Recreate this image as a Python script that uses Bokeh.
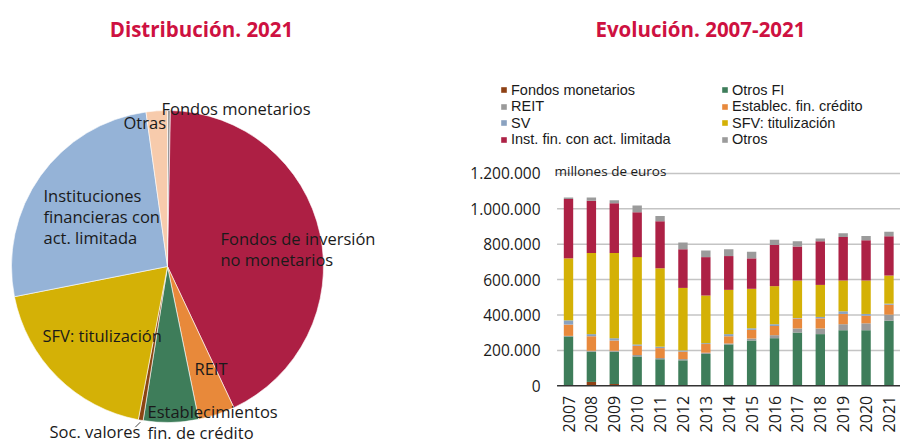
from math import pi
import numpy as np
from bokeh.plotting import figure
from bokeh.layouts import row
from bokeh.models import (Range1d, Label, Legend, LegendItem, FixedTicker, ColumnDataSource)
from bokeh.core.properties import value
from bokeh.embed import file_html
from bokeh.resources import INLINE

FONT = "Open Sans"
LEGEND_FONT = "Liberation Sans"
TITLE_COLOR = "#CE1141"
TEXT_COLOR = "#1a1a1a"

# ---------------- data: pie (Distribución 2021, % del total) ----------------
pie_labels = ["Fondos monetarios", "Fondos de inversión\nno monetarios", "REIT",
              "Establecimientos\nfin. de crédito", "Soc. valores", "SFV: titulización",
              "Instituciones\nfinancieras con\nact. limitada", "Otras"]
pie_shares = [0.3, 42.7, 3.8, 5.7, 0.5, 18.9, 25.9, 2.2]
pie_colors = ["#9A9A9A", "#AD1F44", "#E8893A", "#3E7D5A", "#8B4513", "#D4B106",
              "#95B3D7", "#F7CBAC"]

# ---------------- data: stacked bars (millones de euros) ----------------
years = ["2007", "2008", "2009", "2010", "2011", "2012", "2013", "2014",
         "2015", "2016", "2017", "2018", "2019", "2020", "2021"]
fondos_monetarios = [2000, 22000, 10000, 3000, 3000, 2000, 2000, 2000, 2000, 2000, 2000, 2000, 2000, 2000, 2000]
otros_fi = [277000, 171000, 183000, 163000, 147000, 142000, 178000, 232000, 254000, 267000, 299000, 290000, 312000, 312000, 366000]
reit = [3000, 5000, 5000, 8000, 7000, 7000, 7000, 5000, 11000, 17000, 23000, 32000, 34000, 39000, 34000]
establec = [64000, 82000, 58000, 52000, 56000, 42000, 49000, 41000, 49000, 52000, 56000, 57000, 58000, 43000, 56000]
sv = [24000, 12000, 13000, 8000, 8000, 7000, 5000, 12000, 9000, 10000, 3000, 8000, 15000, 10000, 6000]
sfv = [350000, 458000, 481000, 493000, 443000, 353000, 269000, 250000, 223000, 215000, 212000, 181000, 174000, 189000, 159000]
inst_fin = [335000, 295000, 282000, 253000, 265000, 219000, 217000, 191000, 172000, 232000, 192000, 247000, 245000, 228000, 222000]
otros = [9000, 19000, 17000, 39000, 30000, 38000, 38000, 39000, 37000, 30000, 30000, 15000, 22000, 24000, 25000]

series_keys = ["fondos_monetarios", "otros_fi", "reit", "establec", "sv", "sfv", "inst_fin", "otros"]
series_names = ["Fondos monetarios", "Otros FI", "REIT", "Establec. fin. crédito", "SV",
                "SFV: titulización", "Inst. fin. con act. limitada", "Otros"]
series_colors = ["#8E4115", "#3E7D5A", "#9A9A9A", "#E8893C", "#8AA2C0", "#D4B106",
                 "#AD2145", "#9B9B9B"]
legend_left = ["Fondos monetarios", "REIT", "SV", "Inst. fin. con act. limitada"]
legend_right = ["Otros FI", "Establec. fin. crédito", "SFV: titulización", "Otros"]

ytick_values = [0, 200000, 400000, 600000, 800000, 1000000, 1200000]
ytick_labels = ["0", "200.000", "400.000", "600.000", "800.000", "1.000.000", "1.200.000"]

# ---------------- layout constants ----------------
H = 443
PW = 385
CX, CY = 167, 266      # pie centre in figure pixels (from top-left)
R = 156

# ---------------- pie figure ----------------
pie = figure(width=PW, height=H, x_range=Range1d(-CX, PW - CX), y_range=Range1d(-(H - CY), CY),
             x_axis_type=None, y_axis_type=None, output_backend="svg", toolbar_location=None,
             min_border=0, outline_line_color=None)
pie.grid.visible = False

cum = np.cumsum([0.0] + pie_shares) / sum(pie_shares)
end_angles = pi / 2 - cum[:-1] * 2 * pi
start_angles = pi / 2 - cum[1:] * 2 * pi
pie.wedge(x=0, y=0, radius=R, start_angle=start_angles, end_angle=end_angles,
          fill_color=pie_colors, line_color="white", line_width=0.6)

# label anchor positions (baseline of first line) relative to the centre, px
label_pos = [(-6, 158), (53, 28), (27, -102), (-20, -145), (-118, -165),
             (-125, -69), (-124, 71), (-44, 144)]
LINE = 21
tx, ty, tt = [], [], []
for lab, (lx, ly) in zip(pie_labels, label_pos):
    for i, line in enumerate(lab.split("\n")):
        tx.append(lx)
        ty.append(ly - i * LINE)
        tt.append(line)
pie.text(x=tx, y=ty, text=tt, text_font=value(FONT), text_font_size="16.5px",
         text_color=TEXT_COLOR, text_baseline="alphabetic", text_align="left")

# small leader for "Soc. valores"
sv_mid = (cum[4] + cum[5]) / 2 * 2 * pi
lx0, ly0 = 158 * np.sin(sv_mid), 158 * np.cos(sv_mid)
pie.segment(x0=[lx0], y0=[ly0], x1=[lx0 - 5], y1=[ly0 - 5],
            line_color=TEXT_COLOR, line_width=0.8)

pie.text(x=[34], y=[238], text=["Distribución. 2021"], text_font=value(FONT),
         text_font_size="20.5px", text_font_style="bold", text_color=TITLE_COLOR,
         text_align="center", text_baseline="alphabetic")

# ---------------- bar figure ----------------
BW = 900 - PW
FRAME_LEFT = 490          # page x of plot frame left edge
LABEL_RIGHT = 540         # page x where y tick labels end
FIRST_X = 568             # page x of first bar centre
STEP = 22.89              # px between bars
BASE_Y = 385.3            # page y of the zero line
PX200K = 35.4             # pixels per 200.000
k = 200000 / PX200K
xs = [int(y) for y in years]
x_lo = xs[0] - (FIRST_X - FRAME_LEFT) / STEP
x_hi = xs[-1] + (900 - FIRST_X) / STEP - (len(xs) - 1)

bar = figure(width=BW, height=H, x_range=Range1d(x_lo, x_hi),
             y_range=Range1d(-(H - BASE_Y) * k, BASE_Y * k),
             x_axis_location=None, output_backend="svg", toolbar_location=None,
             min_border_left=FRAME_LEFT - PW, min_border_right=0, min_border_top=0,
             min_border_bottom=0, outline_line_color=None)
bar.xgrid.grid_line_color = None
bar.ygrid.grid_line_color = None

# horizontal grid lines and zero line, spanning the bar area only
gx0 = xs[0] - 0.5
gx1 = xs[-1] + 0.5
bar.segment(x0=[gx0] * (len(ytick_values) - 1), x1=[gx1] * (len(ytick_values) - 1),
            y0=ytick_values[1:], y1=ytick_values[1:], line_color="#C4C4C4", line_width=1.5)

data = dict(year=xs, fondos_monetarios=fondos_monetarios, otros_fi=otros_fi, reit=reit,
            establec=establec, sv=sv, sfv=sfv, inst_fin=inst_fin, otros=otros)
src = ColumnDataSource(data)
renderers = bar.vbar_stack(series_keys, x="year", width=0.41, fill_color=series_colors,
                           line_color=None, source=src)

bar.segment(x0=[gx0], x1=[gx1], y0=[0], y1=[0], line_color="#333333", line_width=1.5)

ticker = FixedTicker(ticks=ytick_values)
bar.yaxis.ticker = ticker
bar.yaxis.major_label_overrides = {v: l for v, l in zip(ytick_values, ytick_labels)}
bar.yaxis.axis_line_color = None
bar.yaxis.major_tick_line_color = None
bar.yaxis.minor_tick_line_color = None
bar.yaxis.major_tick_out = 0
bar.yaxis.major_tick_in = 0
bar.yaxis.major_label_standoff = FRAME_LEFT - LABEL_RIGHT
bar.yaxis.major_label_text_font = FONT
bar.yaxis.major_label_text_font_size = "15.5px"
bar.yaxis.major_label_text_color = TEXT_COLOR

# year labels under the zero line, read upwards
bar.text(x=xs, y=[0] * len(xs), text=years, angle=pi / 2, y_offset=10,
         text_align="right", text_baseline="middle", text_font=value(FONT),
         text_font_size="16px", text_color=TEXT_COLOR)

rmap = dict(zip(series_names, renderers))


def make_legend(names, loc):
    return Legend(items=[LegendItem(label=n, renderers=[rmap[n]]) for n in names],
                  location=loc, orientation="vertical",
                  label_text_font=LEGEND_FONT, label_text_font_size="14.5px",
                  label_text_color=TEXT_COLOR, glyph_width=7, glyph_height=7,
                  label_standoff=4, label_height=14, spacing=0, padding=0, margin=0,
                  border_line_color=None, background_fill_alpha=0)


# one legend per row so the row pitch matches the original (two columns)
ROW0, PITCH, HALF = 89.4, 16.4, 8.5
for names, gx in ((legend_left, 500), (legend_right, 721)):
    for i, n in enumerate(names):
        yc = ROW0 + i * PITCH
        bar.add_layout(make_legend([n], (gx - FRAME_LEFT, H - (yc + HALF))))

bar.add_layout(Label(x=554 - FRAME_LEFT, y=H - 170, x_units="screen", y_units="screen",
                     text="millones de euros", text_font=FONT, text_font_size="13.5px",
                     text_color=TEXT_COLOR, text_baseline="alphabetic"))
bar.add_layout(Label(x=700 - FRAME_LEFT, y=H - 28, x_units="screen", y_units="screen",
                     text="Evolución. 2007-2021", text_font=FONT, text_font_size="20.5px",
                     text_font_style="bold", text_color=TITLE_COLOR, text_align="center",
                     text_baseline="alphabetic"))

layout = row(pie, bar)
open("out.html", "w").write(file_html(layout, INLINE))
